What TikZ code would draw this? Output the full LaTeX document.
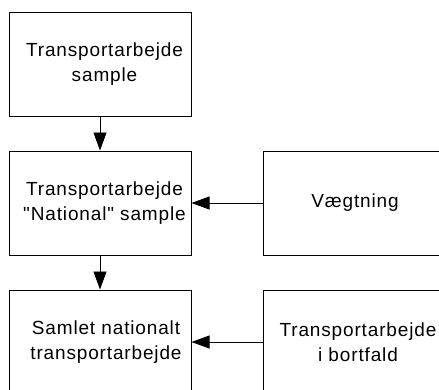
\documentclass[tikz,border=0pt]{standalone}
\usepackage{fontspec}
\setmainfont[LetterSpace=4.5,Ligatures=TeXOff]{Liberation Sans}
\usetikzlibrary{arrows.meta}
\tikzset{
  box/.style={draw=black, line width=1pt, minimum width=182pt, minimum height=104pt,
    inner sep=0pt},
  txt/.style={inner sep=0pt, align=center, font=\fontsize{19}{24.5}\selectfont},
  flow/.style={line width=0.8pt, -{Triangle[length=18pt,width=13pt]}}
}
\begin{document}
\begin{tikzpicture}[x=1pt,y=1pt]
  \useasboundingbox (0,0) rectangle (439,-389);
  \clip (0,0) rectangle (439,-389);
  % left column: the processing chain
  \node[box] (sample)   at (100,-64)  {};
  \node[box] (national) at (100,-203) {};
  \node[box] (samlet)   at (100,-342) {};
  % right column: inputs
  \node[box] (vaegt)    at (354,-203) {};
  \node[box] (bortfald) at (354,-342) {};
  % box labels
  \node[txt] (sampleT)   at ([xshift=4.5pt]sample)   {Transportarbejde\\sample};
  \node[txt] (nationalT) at ([xshift=4.5pt]national) {Transportarbejde\\"National" sample};
  \node[txt] (samletT)   at ([xshift=6pt]samlet)     {Samlet nationalt\\transportarbejde};
  \node[txt] (vaegtT)    at ([xshift=1pt]vaegt)      {Vægtning};
  \node[txt] (bortfaldT) at ([xshift=4pt]bortfald)   {Transportarbejde\\i bortfald};
  % connectors
  \draw[flow] (sample) -- (national);
  \draw[flow] (national) -- (samlet);
  \draw[flow] (vaegt) -- (national);
  \draw[flow] (bortfald) -- (samlet);
\end{tikzpicture}
\end{document}
